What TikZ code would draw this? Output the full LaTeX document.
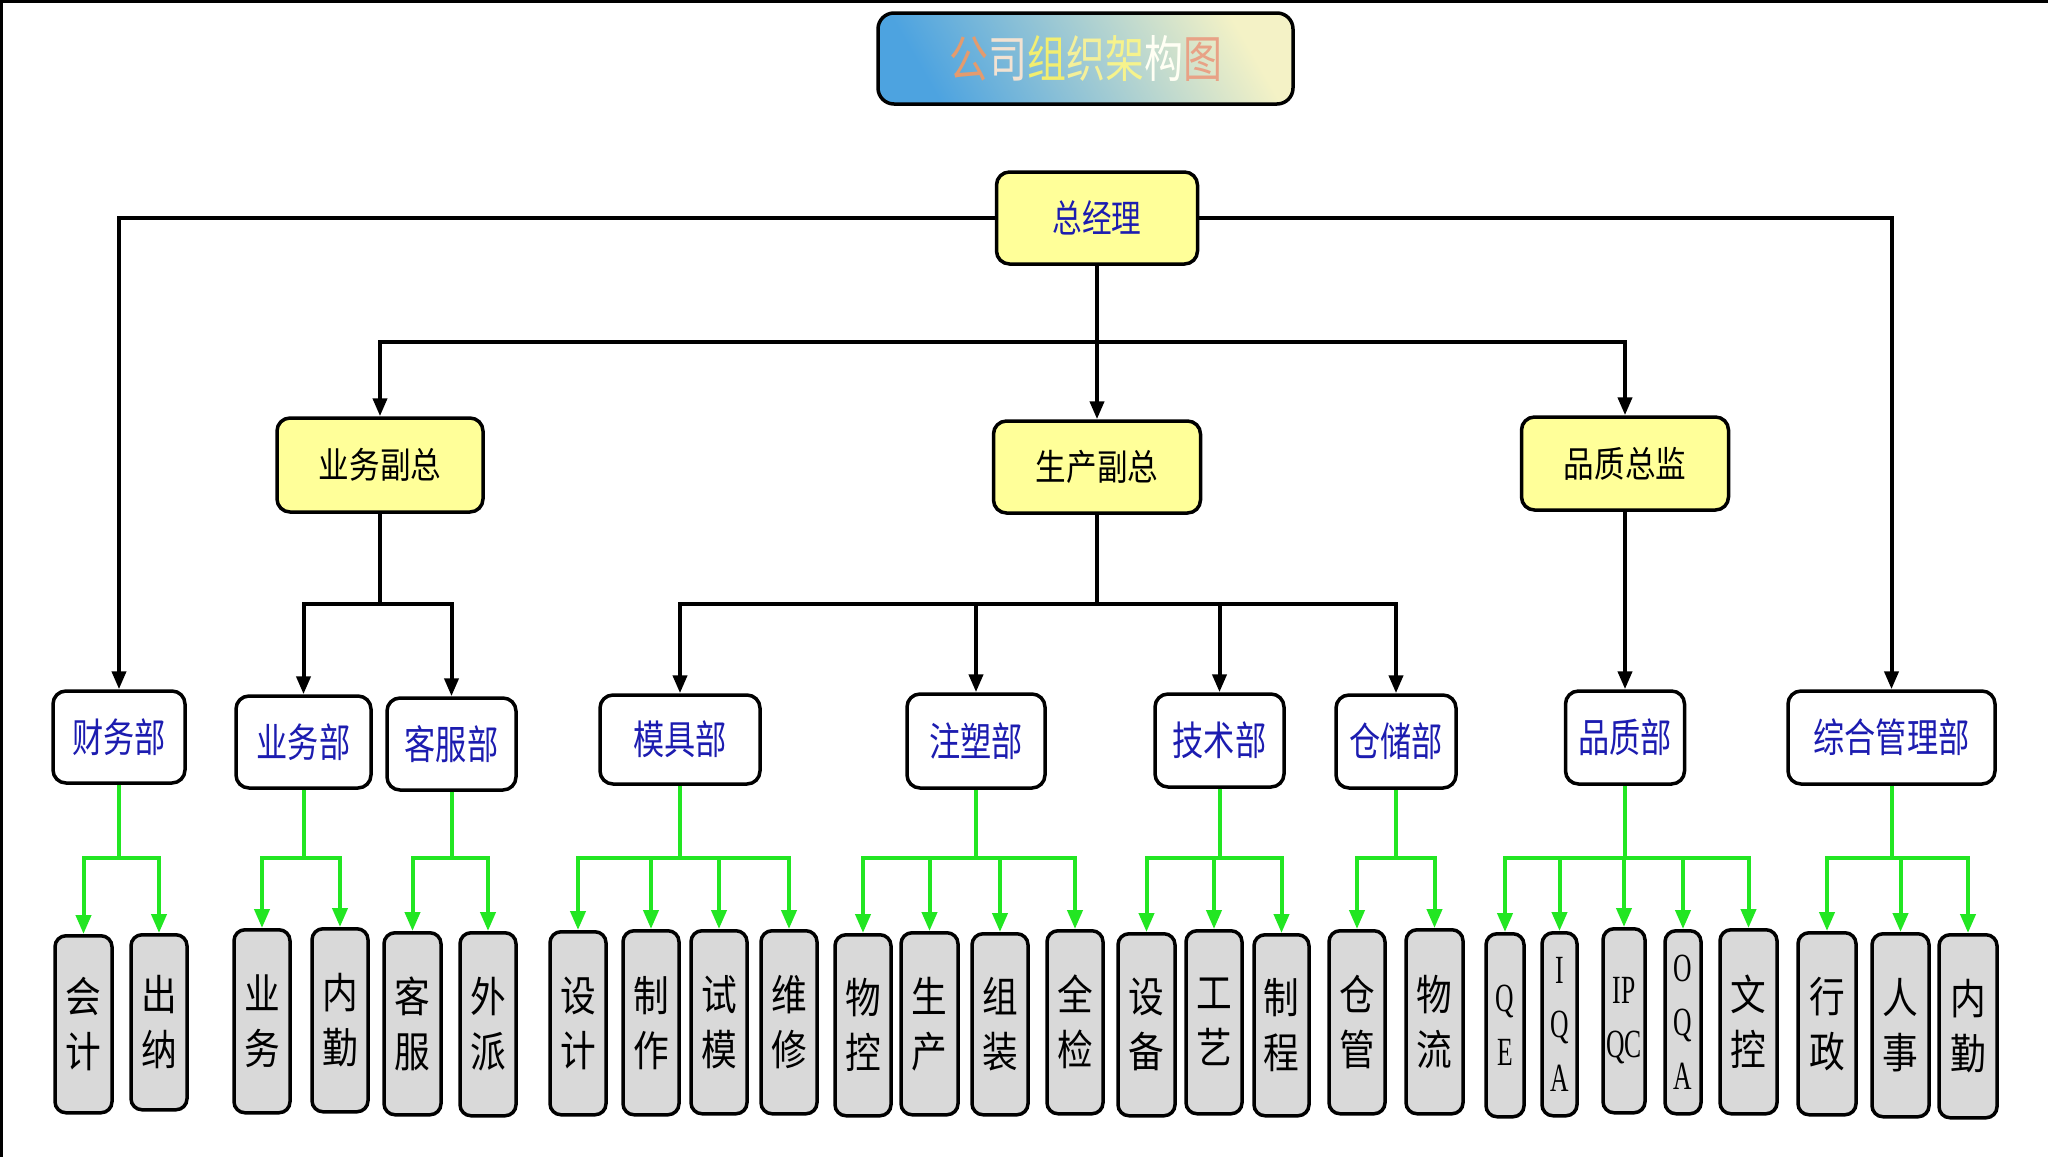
\documentclass[tikz,border=0pt]{standalone}
\usepackage{fontspec}
\usetikzlibrary{arrows.meta}
\newfontfamily\cjkA[FakeStretch=0.78]{Noto Sans CJK SC}
\newfontfamily\cjkB[FakeStretch=0.85]{Noto Sans CJK SC}
\newfontfamily\latn[FakeStretch=0.64]{Liberation Serif}
\definecolor{headyellow}{HTML}{FFFF99}
\definecolor{deptblue}{HTML}{1C1CB0}
\definecolor{leafgrey}{HTML}{D9D9D9}
\definecolor{linegreen}{HTML}{22E622}
\definecolor{tblue}{HTML}{4DA3E0}
\definecolor{tmid}{HTML}{A8D6E0}
\definecolor{tyel}{HTML}{F4F2C6}
\definecolor{ta}{HTML}{E49B6E}
\definecolor{tb}{HTML}{F2E2D2}
\definecolor{tc}{HTML}{F2EE70}
\definecolor{td}{HTML}{F4F09A}
\definecolor{te}{HTML}{F6F38C}
\definecolor{tf}{HTML}{FFFFF4}
\definecolor{tg}{HTML}{E8A286}
\tikzset{
  box/.style={draw=black, line width=3.5pt, rounded corners=13pt, inner sep=0pt, align=center},
  titlebox/.style={box, rounded corners=16pt, top color=tyel, middle color=tmid, bottom color=tblue, shading angle=-60,
    minimum width=415pt, minimum height=91pt, font=\cjkA\fontsize{50}{54}\selectfont},
  head/.style={box, fill=headyellow, font=\cjkB\fontsize{36}{40}\selectfont},
  dept/.style={box, fill=white, text=deptblue, font=\cjkA\fontsize{40}{44}\selectfont},
  leaf/.style={box, fill=leafgrey, anchor=north, rounded corners=11pt, font=\cjkB\fontsize{42}{55}\selectfont},
  latin/.style={font=\latn\fontsize{40}{54}\selectfont},
  blkline/.style={line width=4pt},
  blk/.style={line width=4pt, -{Triangle[width=14pt,length=18pt]}},
  grnline/.style={draw=linegreen, line width=4pt},
  grn/.style={draw=linegreen, line width=4pt, -{Triangle[width=15pt,length=19pt]}},
}
\begin{document}
\begin{tikzpicture}[x=1pt, y=-1pt]
\useasboundingbox (0,0) rectangle (2048,1157);
\fill[white] (0,0) rectangle (2048,1157);
\draw[line width=2.5pt] (0,1.25) -- (2048,1.25);
\draw[line width=2.5pt] (1.25,0) -- (1.25,1157);

% title
\node[titlebox] (ttl) at (1085.5,58.5) {{\color{ta}公}{\color{tb}司}{\color{tc}组}{\color{td}织}{\color{te}架}{\color{tf}构}{\color{tg}图}};

% heads
\node[head, minimum width=201pt, minimum height=92pt, text=deptblue, font=\cjkA\fontsize{38}{42}\selectfont] (ceo) at (1097,218) {总经理};
\node[head, minimum width=206pt, minimum height=94pt] (vp1) at (380,465) {业务副总};
\node[head, minimum width=207pt, minimum height=92pt] (vp2) at (1097,467) {生产副总};
\node[head, minimum width=207pt, minimum height=93pt] (qd) at (1625,463.5) {品质总监};

% departments
\node[dept, minimum width=132pt, minimum height=92pt] (d1) at (119,737) {财务部};
\node[dept, minimum width=135pt, minimum height=92pt] (d2) at (303.5,742) {业务部};
\node[dept, minimum width=129pt, minimum height=92pt] (d3) at (451.5,744) {客服部};
\node[dept, minimum width=160pt, minimum height=89pt] (d4) at (680,739.5) {模具部};
\node[dept, minimum width=138pt, minimum height=94pt] (d5) at (976,741) {注塑部};
\node[dept, minimum width=129pt, minimum height=93pt] (d6) at (1219.5,740.5) {技术部};
\node[dept, minimum width=120pt, minimum height=93pt] (d7) at (1396,741.5) {仓储部};
\node[dept, minimum width=119pt, minimum height=93pt] (d8) at (1625,737.5) {品质部};
\node[dept, minimum width=207pt, minimum height=93pt] (d9) at (1891.5,737.5) {综合管理部};

% leaves
\node[leaf, minimum width=57pt, minimum height=177pt] (l1) at (83.5,934) {会\\计};
\node[leaf, minimum width=56pt, minimum height=175pt] (l2) at (159,933) {出\\纳};
\node[leaf, minimum width=56pt, minimum height=183pt] (l3) at (262,928) {业\\务};
\node[leaf, minimum width=56pt, minimum height=183pt] (l4) at (340,927) {内\\勤};
\node[leaf, minimum width=57pt, minimum height=182pt] (l5) at (412.5,931) {客\\服};
\node[leaf, minimum width=56pt, minimum height=183pt] (l6) at (488,931) {外\\派};
\node[leaf, minimum width=56pt, minimum height=183pt] (l7) at (578,930) {设\\计};
\node[leaf, minimum width=56pt, minimum height=184pt] (l8) at (651,929) {制\\作};
\node[leaf, minimum width=56pt, minimum height=183pt] (l9) at (719,929) {试\\模};
\node[leaf, minimum width=56pt, minimum height=183pt] (l10) at (789,929) {维\\修};
\node[leaf, minimum width=56pt, minimum height=181pt] (l11) at (863,933) {物\\控};
\node[leaf, minimum width=57pt, minimum height=182pt] (l12) at (929.5,931) {生\\产};
\node[leaf, minimum width=56pt, minimum height=181pt] (l13) at (1000,932) {组\\装};
\node[leaf, minimum width=56pt, minimum height=183pt] (l14) at (1075,929) {全\\检};
\node[leaf, minimum width=57pt, minimum height=182pt] (l15) at (1146.5,932) {设\\备};
\node[leaf, minimum width=56pt, minimum height=183pt] (l16) at (1214,929) {工\\艺};
\node[leaf, minimum width=55pt, minimum height=181pt] (l17) at (1281.5,933) {制\\程};
\node[leaf, minimum width=56pt, minimum height=183pt] (l18) at (1357,929) {仓\\管};
\node[leaf, minimum width=57pt, minimum height=184pt] (l19) at (1434.5,928) {物\\流};
\node[leaf, latin, minimum width=38pt, minimum height=183pt] (l20) at (1505,932) {Q\\E};
\node[leaf, latin, minimum width=35pt, minimum height=183pt] (l21) at (1559.5,931) {I\\Q\\A};
\node[leaf, latin, minimum width=42pt, minimum height=184pt] (l22) at (1624,927) {IP\\QC};
\node[leaf, latin, minimum width=36pt, minimum height=183pt] (l23) at (1683,929) {O\\Q\\A};
\node[leaf, minimum width=57pt, minimum height=184pt] (l24) at (1748.5,928) {文\\控};
\node[leaf, minimum width=58pt, minimum height=182pt] (l25) at (1827,931) {行\\政};
\node[leaf, minimum width=57pt, minimum height=183pt] (l26) at (1900.5,932) {人\\事};
\node[leaf, minimum width=58pt, minimum height=183pt] (l27) at (1968,933) {内\\勤};

% levels of the split lines
\coordinate (yc) at (0,342);
\coordinate (yv) at (0,604);
\coordinate (yb) at (0,858);

% black connectors
\draw[blk] (ceo.west) -| (d1.north);
\draw[blk] (ceo.east) -| (d9.north);
\draw[blkline] (ceo.south) -- (ceo.south |- yc);
\foreach \t in {vp1,vp2,qd} {\draw[blk] (ceo.south |- yc) -| (\t.north);}
\draw[blkline] (vp1.south) -- (vp1.south |- yv);
\foreach \t in {d2,d3} {\draw[blk] (vp1.south |- yv) -| (\t.north);}
\draw[blkline] (vp2.south) -- (vp2.south |- yv);
\foreach \t in {d4,d5,d6,d7} {\draw[blk] (vp2.south |- yv) -| (\t.north);}
\draw[blk] (qd.south) -- (d8.north);

% green connectors
\foreach \d/\ls in {d1/{l1,l2}, d2/{l3,l4}, d3/{l5,l6}, d4/{l7,l8,l9,l10}, d5/{l11,l12,l13,l14}, d6/{l15,l16,l17}, d7/{l18,l19}, d8/{l20,l21,l22,l23,l24}, d9/{l25,l26,l27}} {
  \draw[grnline] (\d.south) -- (\d.south |- yb);
  \foreach \l in \ls {\draw[grn] (\d.south |- yb) -| (\l.north);}
}
\end{tikzpicture}
\end{document}
